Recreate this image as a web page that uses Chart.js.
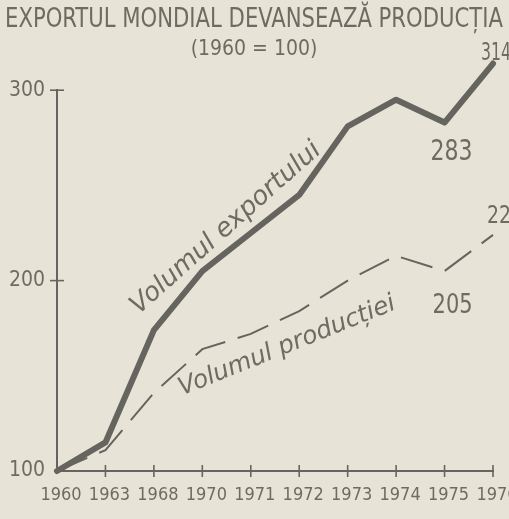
<!DOCTYPE html>
<html><head><meta charset="utf-8">
<script src="https://cdn.jsdelivr.net/npm/chart.js@4.4.1/dist/chart.umd.min.js"></script>
<style>html,body{margin:0;padding:0;background:#e7e4d7;} canvas{display:block;}</style>
</head><body>
<canvas id="c" width="509" height="519"></canvas>
<script>
// ---- data ----
const years = ['1960','1963','1968','1970','1971','1972','1973','1974','1975','1976'];
const exportVolume = [100,115,174,205,225,245,281,295,283,314];
const productionVolume = [100,111,141,164,172,184,200,213,205,224];
const yTicks = [100,200,300];
const titleText = 'EXPORTUL MONDIAL DEVANSEAZĂ PRODUCȚIA';
const subtitleText = '(1960 = 100)';
const exportLabel = 'Volumul exportului';
const productionLabel = 'Volumul producției';
const labelledExport = [8, 9];
const labelledProduction = [8, 9];

// ---- styles ----
const INK = '#6e6c62';
const LINE = '#66645e';
const PAPER = '#e7e4d7';
const FONT = '"DejaVu Sans Condensed", "DejaVu Sans", sans-serif';

const paper = {
  id: 'paper',
  beforeDraw(chart) {
    const ctx = chart.ctx;
    ctx.save();
    ctx.fillStyle = PAPER;
    ctx.fillRect(0, 0, chart.width, chart.height);
    ctx.restore();
  }
};

const crossTicks = {
  id: 'crossTicks',
  afterDraw(chart) {
    const ctx = chart.ctx;
    const x = chart.scales.x, y = chart.scales.y;
    const ca = chart.chartArea;
    ctx.save();
    ctx.strokeStyle = LINE;
    ctx.lineWidth = 1.6;
    for (let i = 1; i < years.length; i++) {
      const px = x.getPixelForTick(i);
      ctx.beginPath(); ctx.moveTo(px, ca.bottom - 6); ctx.lineTo(px, ca.bottom + 6); ctx.stroke();
    }
    yTicks.forEach(v => {
      if (v === y.min) return;
      const py = y.getPixelForValue(v);
      ctx.beginPath(); ctx.moveTo(ca.left - 7, py); ctx.lineTo(ca.left + 7, py); ctx.stroke();
    });
    ctx.restore();
  }
};

const annotations = {
  id: 'annotations',
  afterDatasetsDraw(chart) {
    const ctx = chart.ctx;
    const ca = chart.chartArea;
    ctx.save();
    ctx.fillStyle = INK;
    function along(text, cx, cy, angleDeg, width) {
      ctx.font = 'italic 100px "DejaVu Sans"';
      const w = ctx.measureText(text).width;
      const size = 100 * width / w;
      ctx.font = 'italic ' + size.toFixed(1) + 'px "DejaVu Sans"';
      ctx.save();
      ctx.translate(cx, cy);
      ctx.rotate(-angleDeg * Math.PI / 180);
      ctx.textAlign = 'center';
      ctx.textBaseline = 'middle';
      ctx.fillText(text, 0, 0);
      ctx.restore();
    }
    along(exportLabel, ca.left + 169, ca.top + 138, 41.6, 245);
    along(productionLabel, ca.left + 230, ca.top + 256, 22, 232);

    const m0 = chart.getDatasetMeta(0).data;
    const m1 = chart.getDatasetMeta(1).data;
    ctx.textBaseline = 'middle';
    ctx.textAlign = 'center';
    ctx.font = '29px ' + FONT;
    let p = m0[labelledExport[0]];
    ctx.fillText(String(exportVolume[labelledExport[0]]), p.x + 7, p.y + 30, 42);
    ctx.font = '25px ' + FONT;
    p = m0[labelledExport[1]];
    ctx.fillText(String(exportVolume[labelledExport[1]]), p.x + 3, p.y - 10, 30);
    ctx.font = '27px ' + FONT;
    p = m1[labelledProduction[0]];
    ctx.fillText(String(productionVolume[labelledProduction[0]]), p.x + 8, p.y + 35, 40);
    ctx.textAlign = 'left';
    ctx.font = '25px ' + FONT;
    p = m1[labelledProduction[1]];
    ctx.fillText(String(productionVolume[labelledProduction[1]]), p.x - 6, p.y - 18, 36);
    ctx.restore();
  }
};

new Chart(document.getElementById('c'), {
  type: 'line',
  data: {
    labels: years,
    datasets: [
      {
        label: exportLabel,
        data: exportVolume,
        borderColor: LINE,
        borderWidth: 6,
        pointRadius: 0,
        tension: 0,
        clip: false,
        borderCapStyle: 'round',
        borderJoinStyle: 'round'
      },
      {
        label: productionLabel,
        data: productionVolume,
        borderColor: LINE,
        borderWidth: 2,
        borderDash: [33, 13],
        pointRadius: 0,
        tension: 0,
        clip: false
      }
    ]
  },
  options: {
    responsive: false,
    animation: false,
    layout: { padding: { left: 5, right: 6, top: 0, bottom: 0 } },
    plugins: {
      legend: { display: false },
      tooltip: { enabled: false },
      title: {
        display: true,
        text: titleText,
        color: INK,
        font: { family: FONT, size: 27, weight: 'normal', lineHeight: 1 },
        padding: { top: 6, bottom: 4 }
      },
      subtitle: {
        display: true,
        text: subtitleText,
        color: INK,
        font: { family: FONT, size: 21, weight: 'normal', lineHeight: 1.2 },
        padding: { top: 0, bottom: 28 }
      }
    },
    scales: {
      x: {
        type: 'category',
        offset: false,
        grid: { display: false, drawTicks: false },
        border: { display: true, color: LINE, width: 2 },
        ticks: {
          color: INK,
          font: { family: FONT, size: 18 },
          padding: 14,
          labelOffset: 4,
          maxRotation: 0,
          autoSkip: false
        },
        afterFit(s) { s.height = 48; s.paddingLeft = 0; s.paddingRight = 0; }
      },
      y: {
        min: 100,
        max: 300,
        grid: { display: false, drawTicks: false },
        border: { display: true, color: LINE, width: 2 },
        ticks: {
          color: INK,
          font: { family: FONT, size: 21 },
          padding: 12
        },
        afterBuildTicks(s) { s.ticks = yTicks.map(v => ({ value: v })); },
        afterFit(s) { s.width = 52; s.paddingTop = 0; s.paddingBottom = 0; }
      },
      yRight: {
        type: 'linear',
        position: 'right',
        display: true,
        grid: { display: false, drawTicks: false },
        border: { display: false },
        ticks: { display: false },
        afterFit(s) { s.width = 10; s.paddingTop = 0; s.paddingBottom = 0; }
      }
    }
  },
  plugins: [paper, crossTicks, annotations]
});
</script>
</body></html>
